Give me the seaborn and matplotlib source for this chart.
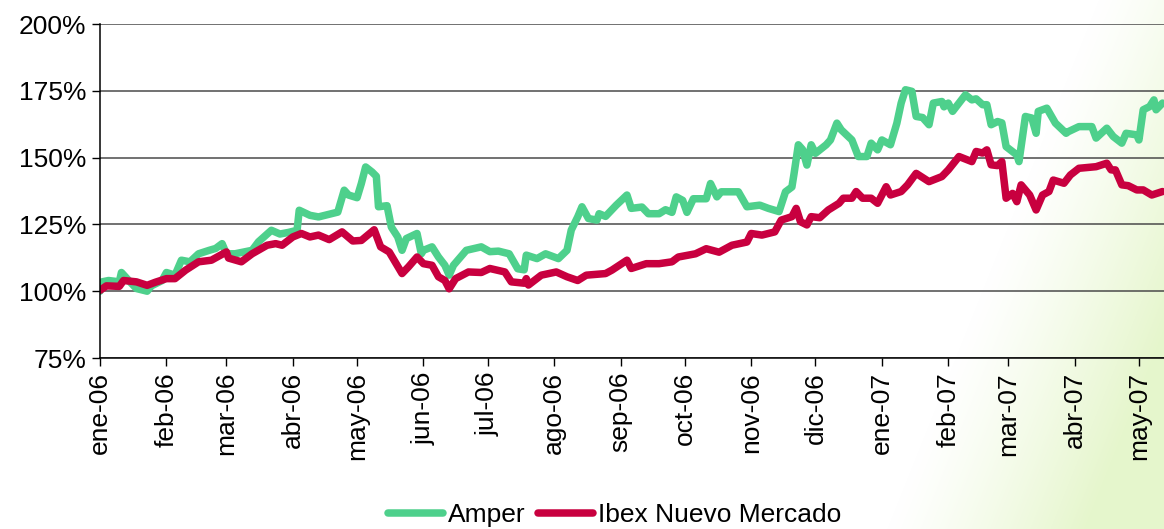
import numpy as np
import pandas as pd
import matplotlib
matplotlib.use("Agg")
import matplotlib.pyplot as plt
import seaborn as sns

# ---- data (day offset from 2006-01-01, value in %) ----
amper_days = [0, 1, 4, 9, 10, 14, 17, 22, 24, 29, 31, 35, 38, 42, 46, 51, 54, 57, 59, 63,
              66, 71, 74, 80, 84, 88, 92, 93, 98, 102, 108, 111, 114, 116, 120, 122, 124, 127,
              129, 130, 134, 136, 139, 141, 143, 148, 150, 151, 155, 158, 161, 163, 165, 171,
              178, 182, 186, 191, 195, 198, 199, 204, 208, 214, 218, 220, 223, 225, 228, 232,
              233, 236, 241, 246, 248, 253, 256, 261, 264, 267, 269, 272, 274, 277, 283, 285,
              288, 290, 298, 302, 308, 312, 317, 320, 323, 324, 326, 328, 330, 332, 334, 339,
              341, 344, 346, 351, 354, 358, 360, 363, 365, 369, 372, 374, 376, 379, 381, 384,
              387, 389, 393, 394, 396, 398, 404, 407, 409, 412, 414, 416, 419, 421, 423, 428,
              429, 432, 435, 437, 438, 442, 446, 451, 452, 457, 463, 465, 470, 473, 477, 479,
              484, 485, 487, 490, 492, 493, 496]
amper_vals = [100, 103.5, 104, 103.5, 107, 103.5, 101, 100, 102, 104, 107, 106, 111.6, 111,
              114, 115.3, 116, 117.8, 114, 114, 114.5, 115.3, 118.5, 122.8, 121.4, 122, 122.8,
              130.3, 128.4, 127.8, 129, 129.6, 137.8, 136, 135, 140.3, 146.5, 144.6, 143,
              131.6, 132, 124, 120.3, 115.3, 119.7, 121.6, 114, 115.3, 116.6, 112.8, 109.7,
              106, 109.7, 115.3, 116.6, 114.8, 115, 114, 108.4, 108, 113.5, 112.2, 114, 112.2,
              115.3, 122.9, 127.8, 131.6, 127.2, 126.6, 129, 128, 132.2, 136, 131, 131.5, 129,
              129, 130.5, 129.5, 135.3, 134, 129.5, 134.6, 134.6, 140.3, 135.3, 137.2, 137.2,
              131.6, 132.2, 131, 129.8, 137.2, 139, 144, 154.8, 153, 147.2, 154.8, 151.6,
              154.8, 156.6, 162.9, 160.4, 156.6, 150.4, 150.4, 155.4, 152.9, 156.6, 154.8,
              162.9, 170.4, 175.4, 174.8, 165.4, 165, 162.3, 170.4, 171, 169, 170.4, 167.3,
              173.5, 171.6, 172, 169.8, 169.8, 162.3, 163.5, 163, 154.1, 151, 148.5, 165.4,
              164.8, 159.1, 167.3, 168.5, 162.9, 159.1, 159.7, 161.6, 161.6, 157.3, 161,
              157.9, 155.4, 159.1, 158.5, 156.6, 167.9, 169.1, 171.6, 167.9, 170.4]

ibex_days = [0, 3, 9, 11, 17, 22, 26, 31, 35, 40, 46, 52, 59, 60, 66, 71, 78, 82, 85, 90, 94,
             98, 102, 107, 113, 118, 122, 128, 131, 135, 141, 144, 148, 151, 155, 158, 161,
             163, 166, 172, 178, 182, 189, 192, 198, 199, 200, 206, 213, 218, 223, 227, 236,
             239, 246, 248, 255, 261, 267, 270, 278, 283, 289, 295, 302, 304, 309, 315, 318,
             323, 325, 327, 330, 332, 336, 340, 345, 347, 351, 353, 356, 360, 363, 367, 369,
             374, 377, 381, 387, 393, 396, 401, 407, 409, 412, 414, 416, 419, 421, 423, 426,
             428, 430, 434, 437, 440, 443, 445, 450, 453, 457, 465, 470, 472, 474, 477, 480,
             484, 487, 491, 496]
ibex_vals = [100.3, 102, 101.8, 104, 103.5, 102.2, 103.4, 104.7, 104.7, 107.9, 111, 111.6,
             114.7, 112.4, 111, 114, 117.2, 117.8, 117.2, 120.3, 121.6, 120.3, 121, 119.3,
             122.2, 118.8, 119, 123, 116.6, 114.7, 106.6, 109.1, 112.8, 110.3, 109.7, 105.4,
             104, 100.9, 104.7, 107.2, 107, 108.5, 107.2, 103.5, 103, 104.7, 102.3, 106,
             107.2, 105.4, 104, 106, 106.6, 107.9, 111.6, 108.5, 110.3, 110.3, 111, 112.8,
             114, 115.9, 114.6, 117.2, 118.4, 121.6, 121, 122.2, 126.6, 127.9, 131, 126,
             124.8, 127.9, 127.5, 130.4, 132.9, 134.8, 134.8, 137.3, 134.8, 134.8, 132.9,
             139.1, 136, 137.3, 139.8, 144.1, 141, 142.9, 145.4, 150.4, 148.5, 152.3, 151.7,
             152.9, 147.3, 147, 148.5, 134.8, 136.6, 133.5, 139.8, 136, 130.4, 136, 137.3,
             141.6, 140.4, 143.5, 146, 146.6, 147.9, 145.4, 145.4, 139.8, 139.5, 137.9,
             137.9, 136, 137.3]

series_names = ["Amper", "Ibex Nuevo Mercado"]
month_labels = ["ene-06", "feb-06", "mar-06", "abr-06", "may-06", "jun-06", "jul-06",
                "ago-06", "sep-06", "oct-06", "nov-06", "dic-06", "ene-07", "feb-07",
                "mar-07", "abr-07", "may-07"]
y_ticks = [75, 100, 125, 150, 175, 200]

# ---- build frame ----
start = pd.Timestamp("2006-01-01")
df = pd.concat([
    pd.DataFrame({"fecha": start + pd.to_timedelta(amper_days, unit="D"),
                  "valor": amper_vals, "serie": series_names[0]}),
    pd.DataFrame({"fecha": start + pd.to_timedelta(ibex_days, unit="D"),
                  "valor": ibex_vals, "serie": series_names[1]}),
])

sns.set_style("white")
plt.rcParams["font.family"] = ["Liberation Sans", "DejaVu Sans"]
plt.rcParams["text.color"] = "black"
plt.rcParams["xtick.color"] = "black"
plt.rcParams["ytick.color"] = "black"

fig = plt.figure(figsize=(11.64, 5.29), dpi=100)

# decorative faint light-green wash in the lower right corner
bg = fig.add_axes([0, 0, 1, 1], zorder=-10)
h, w = 529, 1164
yy, xx = np.mgrid[0:h, 0:w]
t = np.clip((xx - 1000) / 200 + (yy - 120) / 500 - 0.25, 0, 1) ** 1.2
img = np.ones((h, w, 3))
img[..., 0] = 1 - t * 0.10
img[..., 1] = 1 - t * 0.035
img[..., 2] = 1 - t * 0.20
bg.imshow(img, aspect="auto", extent=[0, 1, 0, 1], origin="upper")
bg.axis("off")

ax = fig.add_axes([100 / 1164, 1 - 358 / 529, 1 - 100 / 1164, (358 - 24) / 529])
ax.patch.set_alpha(0)

palette = {"Amper": "#4ED08C", "Ibex Nuevo Mercado": "#C8003F"}
sns.lineplot(data=df, x="fecha", y="valor", hue="serie", palette=palette,
             linewidth=5.4, ax=ax, legend=True, solid_capstyle="round")

ax.set_ylim(75, 200)
ax.set_yticks(y_ticks)
ax.set_yticklabels([f"{v}%" for v in y_ticks])
ax.set_xlim(start, start + pd.Timedelta(days=496.7))
month_starts = pd.date_range("2006-01-01", "2007-05-01", freq="MS")
ax.set_xticks(month_starts)
ax.set_xticklabels(month_labels, rotation=90)
ax.set_xlabel("")
ax.set_ylabel("")

ax.grid(axis="y", color="#4a4a4a", linewidth=1.1)
ax.grid(axis="x", visible=False)
ax.set_axisbelow(True)
for s in ["top", "right"]:
    ax.spines[s].set_visible(False)
for s in ["left", "bottom"]:
    ax.spines[s].set_color("black")
    ax.spines[s].set_linewidth(1.1)
ax.tick_params(axis="both", direction="out", length=6, width=1, color="black",
               labelcolor="black", labelsize=19, pad=4, left=True, bottom=True)

handles, labels = ax.get_legend_handles_labels()
ax.get_legend().remove()
leg = fig.legend(handles, labels, loc="center", bbox_to_anchor=(0.528, 0.026), ncol=2,
                 frameon=False, fontsize=19, handlelength=2.1, handletextpad=0.2,
                 columnspacing=0.45, borderaxespad=0)
for txt in leg.get_texts():
    txt.set_color("black")

fig.savefig("out.png", dpi=100)
